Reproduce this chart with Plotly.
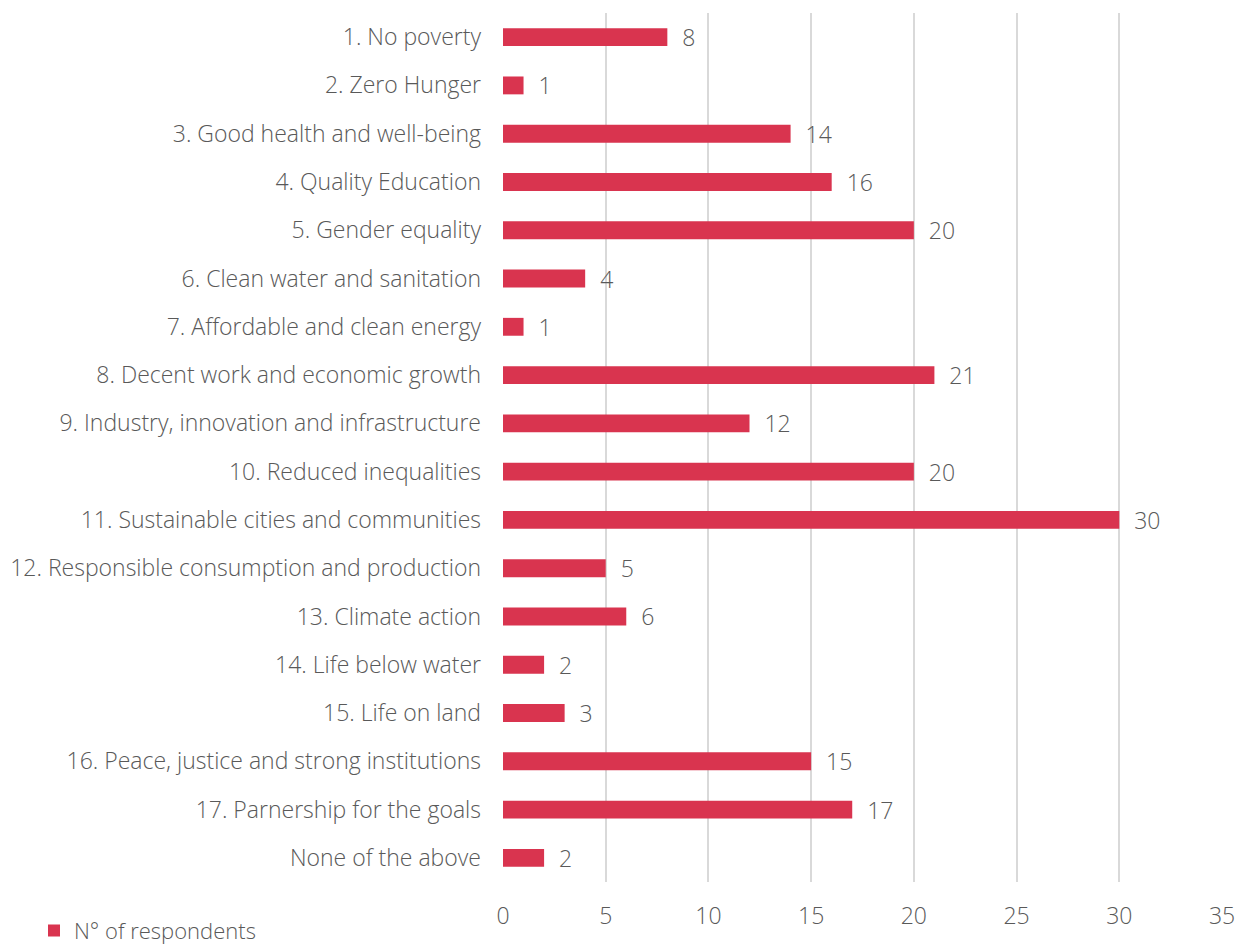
import plotly.graph_objects as go

categories = [
    "1. No poverty",
    "2. Zero Hunger",
    "3. Good health and well-being",
    "4. Quality Education",
    "5. Gender equality",
    "6. Clean water and sanitation",
    "7. Affordable and clean energy",
    "8. Decent work and economic growth",
    "9. Industry, innovation and infrastructure",
    "10. Reduced inequalities",
    "11. Sustainable cities and communities",
    "12. Responsible consumption and production",
    "13. Climate action",
    "14. Life below water",
    "15. Life on land",
    "16. Peace, justice and strong institutions",
    "17. Parnership for the goals",
    "None of the above",
]
respondents = [8, 1, 14, 16, 20, 4, 1, 21, 12, 20, 30, 5, 6, 2, 3, 15, 17, 2]
x_ticks = [0, 5, 10, 15, 20, 25, 30, 35]
series_name = "N° of respondents"

BAR = "#D9344F"
TXT = "#595959"
FONT = "Open Sans"
FS = 23

fig = go.Figure()
fig.add_trace(go.Bar(
    y=categories,
    x=respondents,
    orientation="h",
    name=series_name,
    marker=dict(color=BAR, line=dict(width=0)),
    text=respondents,
    texttemplate="  %{x}",
    textposition="outside",
    constraintext="none",
    cliponaxis=False,
    textfont=dict(family=FONT, size=FS, color=TXT, weight=300),
    showlegend=True,
))

fig.update_layout(
    width=1238,
    height=939,
    margin=dict(l=495, r=24, t=5, b=65, autoexpand=False),
    paper_bgcolor="white",
    plot_bgcolor="white",
    bargap=0.63,
    font=dict(family=FONT, size=FS, color=TXT, weight=300),
    xaxis=dict(
        range=[0, 35],
        tickvals=x_ticks,
        showgrid=True,
        gridcolor="#D9D9D9",
        gridwidth=1.5,
        zeroline=False,
        showline=False,
        ticks="",
        ticklabelstandoff=18,
        automargin=False,
        tickfont=dict(family=FONT, size=FS, color=TXT, weight=300),
    ),
    yaxis=dict(
        autorange="reversed",
        showgrid=False,
        zeroline=False,
        showline=False,
        ticks="",
        ticklabelstandoff=21,
        automargin=False,
        tickfont=dict(family=FONT, size=FS, color=TXT, weight=300),
    ),
    legend=dict(
        orientation="h",
        xref="container", yref="paper",
        x=26 / 1238, y=-0.056,
        xanchor="left", yanchor="middle",
        font=dict(family=FONT, size=22, color=TXT, weight=300),
        itemwidth=30,
    ),
)

fig.write_html("out.html")
